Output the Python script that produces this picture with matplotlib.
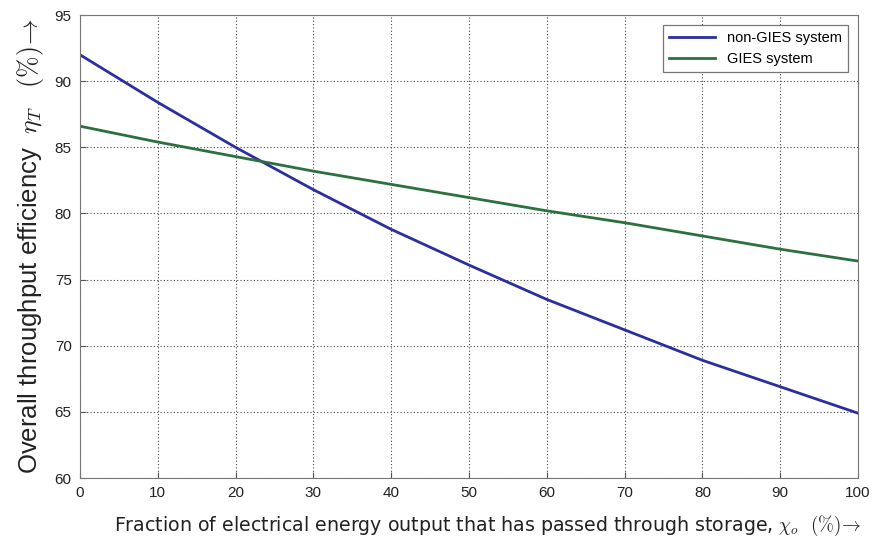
import numpy as np
import matplotlib
matplotlib.use("Agg")
import matplotlib.pyplot as plt

plt.rcParams['mathtext.fontset'] = 'cm'

# storage fraction (%)
chi = [0, 10, 20, 30, 40, 50, 60, 70, 80, 90, 100]
# overall throughput efficiency (%)
eta_non_gies = [92.0, 88.4, 85.0, 81.8, 78.8, 76.1, 73.5, 71.2, 68.9, 66.9, 64.9]
eta_gies = [86.6, 85.4, 84.3, 83.2, 82.2, 81.2, 80.2, 79.3, 78.3, 77.3, 76.4]

fig = plt.figure(figsize=(8.72, 5.38), dpi=100)
ax = fig.add_axes([0.0917, 0.1115, 0.8923, 0.8605])

ax.plot(chi, eta_non_gies, color='#2a2f9e', linewidth=2, label='non-GIES system')
ax.plot(chi, eta_gies, color='#2c7040', linewidth=2, label='GIES system')

ax.set_xlim(0, 100)
ax.set_ylim(60, 95)
ax.set_xticks(np.arange(0, 101, 10))
ax.set_yticks(np.arange(60, 96, 5))
ax.grid(True, linestyle=(0, (1, 2)), color='#444444', linewidth=0.8)
ax.tick_params(direction='in', length=4, colors='#555555', labelcolor='#222222',
               labelsize=11, pad=6)
for lbl in ax.get_xticklabels() + ax.get_yticklabels():
    lbl.set_family('Liberation Sans')
for s in ax.spines.values():
    s.set_color('#777777')

ax.set_xlabel(r'Fraction of electrical energy output that has passed through storage, $\chi_o$  $(\%)\!\rightarrow$',
              fontsize=13.7, family='DejaVu Sans', color='#222222')
ax.xaxis.set_label_coords(0.524, -0.078)
ax.set_ylabel(r'Overall throughput efficiency  $\eta_T$   $(\%)\!\rightarrow$',
              fontsize=18.5, family='Liberation Sans', color='#222222', labelpad=6)

leg = ax.legend(loc='upper right', fancybox=False, framealpha=1,
                edgecolor='#777777', prop={'family': 'Liberation Sans', 'size': 10.5},
                handlelength=3.2, borderaxespad=0.7)
leg.get_frame().set_linewidth(0.9)

fig.savefig('out.png', dpi=100)
